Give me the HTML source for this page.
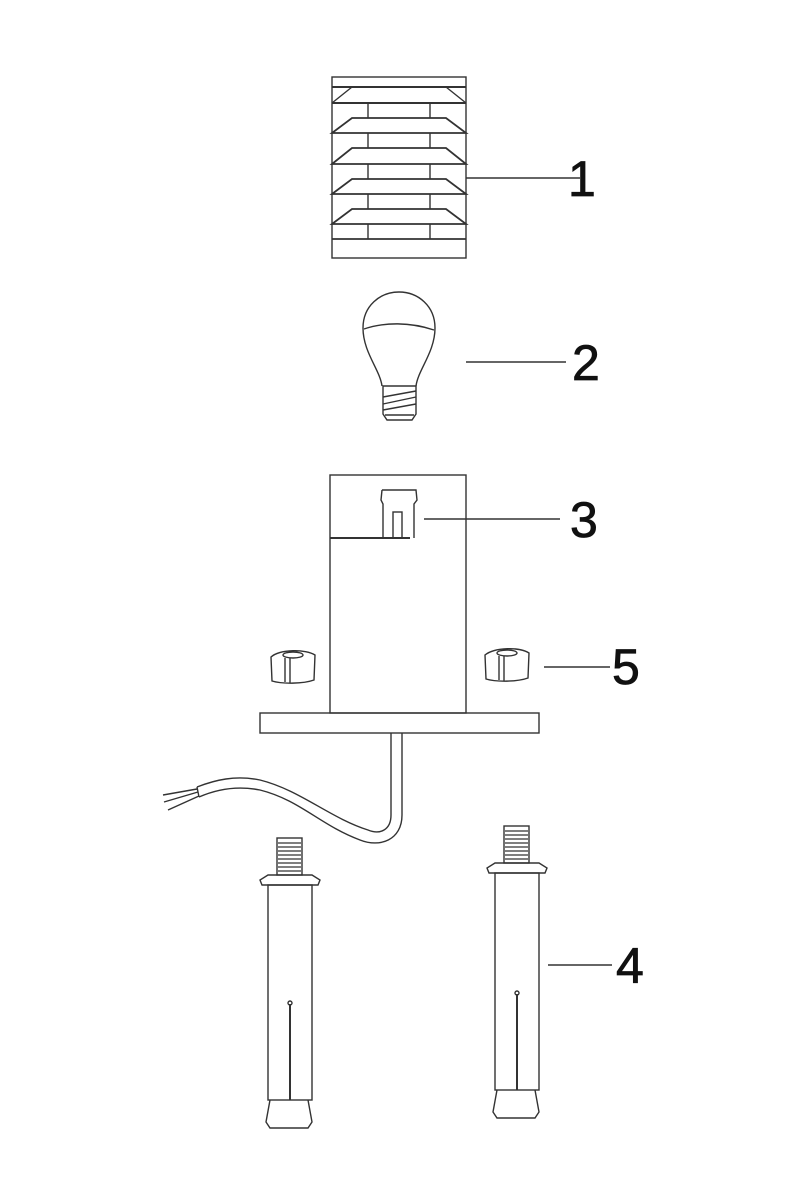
<!DOCTYPE html>
<html><head><style>
html,body{margin:0;padding:0;background:#fff;}
svg{display:block;}
text{font-family:"Liberation Sans",sans-serif;font-size:50px;fill:#111;stroke:#111;stroke-width:0.8;}
</style></head><body>
<svg width="800" height="1200" viewBox="0 0 800 1200" xmlns="http://www.w3.org/2000/svg">
<g fill="none" stroke="#333" stroke-width="1.4">
<!-- lantern -->
<rect x="332" y="77" width="134" height="181"/>
<line x1="332" y1="87" x2="466" y2="87" stroke-width="2"/>
<path d="M332 103 L352 87 M466 103 L446 87"/>
<line x1="332" y1="103" x2="466" y2="103" stroke-width="2"/>
<line x1="368" y1="103" x2="368" y2="118"/><line x1="430" y1="103" x2="430" y2="118"/>
<path d="M332 133 L352 118 L446 118 L466 133 Z" stroke-width="1.8"/>
<line x1="368" y1="133" x2="368" y2="148"/><line x1="430" y1="133" x2="430" y2="148"/>
<path d="M332 164 L352 148 L446 148 L466 164 Z" stroke-width="1.8"/>
<line x1="368" y1="164" x2="368" y2="179"/><line x1="430" y1="164" x2="430" y2="179"/>
<path d="M332 194 L352 179 L446 179 L466 194 Z" stroke-width="1.8"/>
<line x1="368" y1="194" x2="368" y2="209"/><line x1="430" y1="194" x2="430" y2="209"/>
<path d="M332 224 L352 209 L446 209 L466 224 Z" stroke-width="1.8"/>
<line x1="368" y1="224" x2="368" y2="239"/><line x1="430" y1="224" x2="430" y2="239"/>
<line x1="332" y1="239" x2="466" y2="239" stroke-width="1.8"/>
<line x1="466" y1="178" x2="580" y2="178"/>
<!-- bulb -->
<path d="M382 386 C380 370 363 352 363 328 C363 306 380 292 399 292 C418 292 435 306 435 328 C435 352 418 370 416 386"/>
<path d="M364 329 C385 322 410 322 434 330"/>
<path d="M383 386 L383 414 L387 420 L412 420 L416 414 L416 386 Z"/>
<path d="M383 397 L416 391 M383 404 L416 397 M383 410 L416 404 M385 415 L414 415"/>
<line x1="466" y1="362" x2="566" y2="362"/>
<!-- body -->
<rect x="330" y="475" width="136" height="238"/>
<line x1="330" y1="538" x2="410" y2="538" stroke-width="2"/>
<path d="M382 490 L416 490 L417 500 L414 504 L414 538 M382 490 L381 500 L383 504 L383 538"/>
<rect x="393" y="512" width="9" height="26"/>
<line x1="424" y1="519" x2="560" y2="519"/>
<rect x="260" y="713" width="279" height="20"/>
<!-- nuts -->
<path d="M271 657 C280 649 306 649 315 655 L314 680 C303 684 282 684 272 681 Z"/>
<ellipse cx="293" cy="655" rx="10" ry="3"/>
<line x1="285" y1="658" x2="285" y2="682"/><line x1="290" y1="658" x2="290" y2="683"/>
<path d="M485 655 C495 647 520 647 529 653 L528 678 C517 682 496 682 486 679 Z"/>
<ellipse cx="507" cy="653" rx="10" ry="3"/>
<line x1="499" y1="656" x2="499" y2="680"/><line x1="504" y1="656" x2="504" y2="681"/>
<line x1="544" y1="667" x2="610" y2="667"/>
<!-- cable -->
<path d="M391 733 L391 815 C391 830 380 835 368 830 C330 818 300 790 260 780 C235 775 215 780 197 787"/>
<path d="M402 733 L402 815 C402 840 380 848 360 840 C320 825 300 800 260 790 C235 785 215 790 199 797"/>
<path d="M197 787 L199 797 M197 789 L163 795 M198 792 L164 802 M199 796 L168 810"/>
<!-- bolt left -->
<rect x="277" y="838" width="25" height="37"/>
<path d="M278 843h23M278 847h23M278 851h23M278 855h23M278 859h23M278 863h23M278 867h23M278 871h23" stroke-width="1.2"/>
<path d="M268 875 L260 880 L262 885 L318 885 L320 880 L312 875 Z"/>
<rect x="268" y="885" width="44" height="215"/>
<line x1="290" y1="1004" x2="290" y2="1100" stroke-width="2"/>
<circle cx="290" cy="1003" r="2"/>
<path d="M270 1100 L266 1122 L270 1128 L308 1128 L312 1122 L308 1100"/>
<!-- bolt right -->
<rect x="504" y="826" width="25" height="37"/>
<path d="M505 831h23M505 835h23M505 839h23M505 843h23M505 847h23M505 851h23M505 855h23M505 859h23" stroke-width="1.2"/>
<path d="M495 863 L487 868 L489 873 L545 873 L547 868 L539 863 Z"/>
<rect x="495" y="873" width="44" height="217"/>
<line x1="517" y1="994" x2="517" y2="1090" stroke-width="2"/>
<circle cx="517" cy="993" r="2"/>
<path d="M497 1090 L493 1112 L497 1118 L535 1118 L539 1112 L535 1090"/>
<line x1="548" y1="965" x2="612" y2="965"/>
</g>
<text x="568" y="196">1</text>
<text x="572" y="380">2</text>
<text x="570" y="537">3</text>
<text x="616" y="983">4</text>
<text x="612" y="684">5</text>
</svg>
</body></html>
